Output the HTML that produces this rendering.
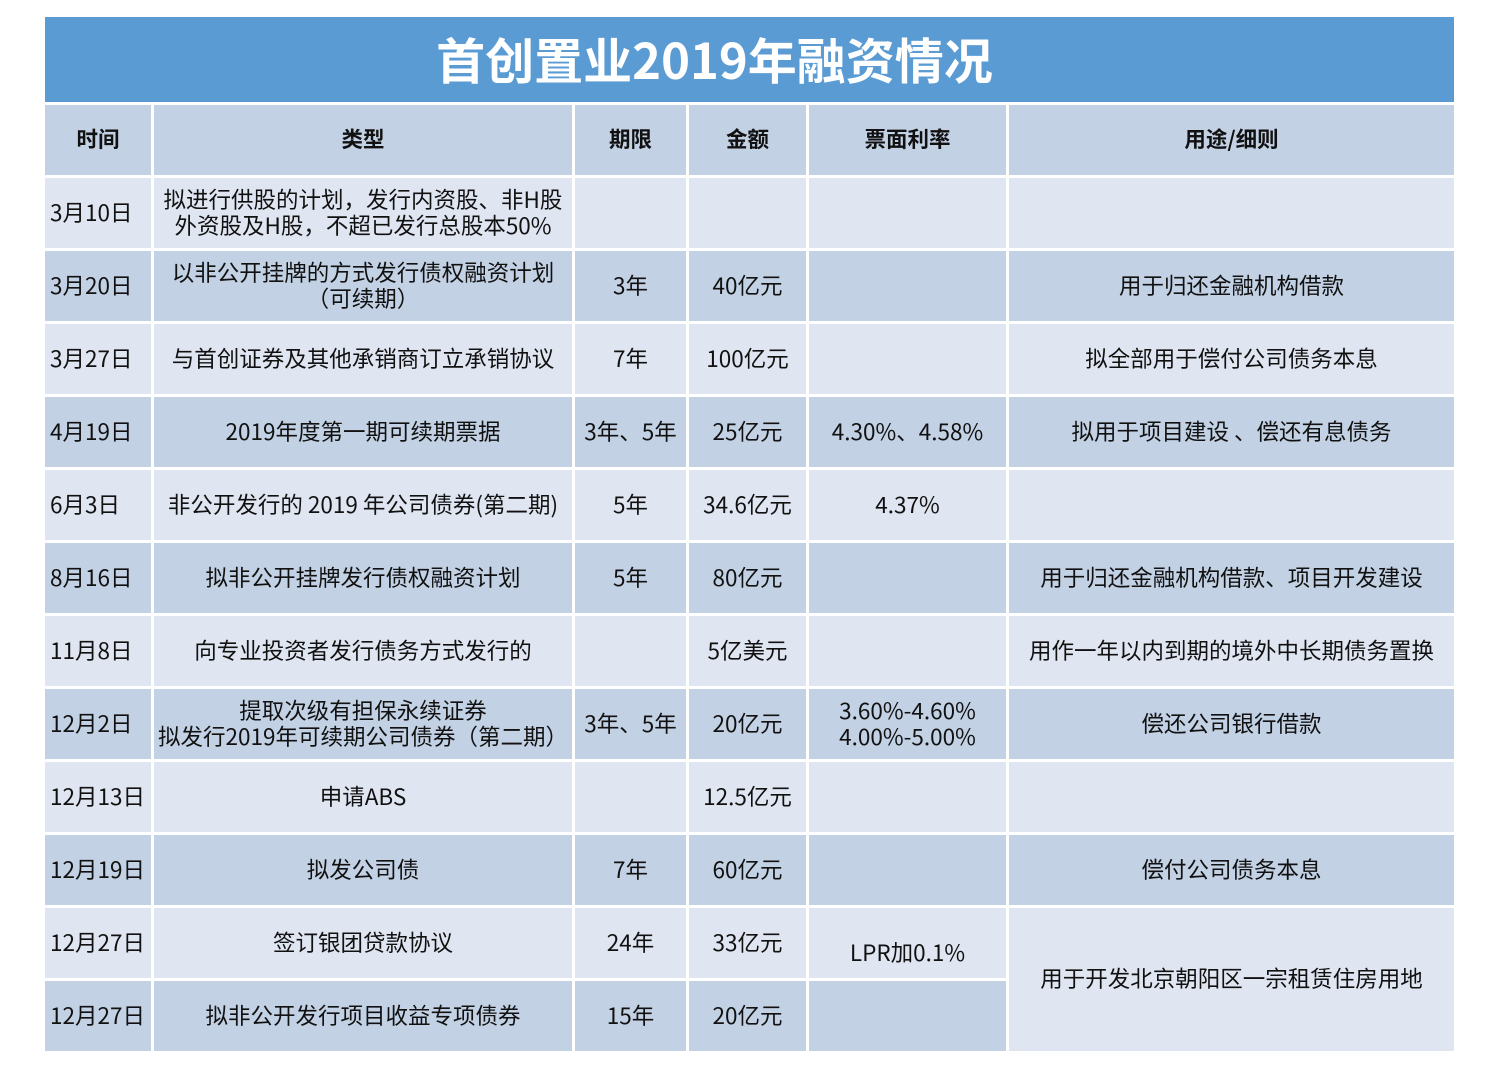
<!DOCTYPE html>
<html><head><meta charset="utf-8"><style>
body{margin:0;width:1500px;height:1075px;background:#fff;position:relative;overflow:hidden;font-family:"Noto Sans CJK SC","Liberation Sans",sans-serif;color:#111}
.c{position:absolute;display:flex;align-items:center;justify-content:center;text-align:center;font-size:22.5px;line-height:26px;box-sizing:border-box;padding-bottom:3px}
.L{background:#dfe5f1}.D{background:#c2d1e4}
.a{left:45px;width:106px;justify-content:flex-start;padding-left:5px}
.b{left:154px;width:418px}
.q{left:575px;width:111px}
.m{left:689px;width:117px}
.r{left:809px;width:197px}
.u{left:1009px;width:445px}
.h{font-weight:bold;background:#c3d1e4;top:105px;height:70px;font-size:21.5px}
</style></head><body>
<div class="c" style="left:45px;top:17px;width:1409px;height:85px;background:#5b9bd3;color:#fff;font-size:49px;font-weight:bold;padding-right:70px;padding-bottom:2px">首创置业2019年融资情况</div>
<div class="c h a" style="justify-content:center;padding:0 0 3px 0">时间</div><div class="c h b">类型</div><div class="c h q">期限</div><div class="c h m">金额</div><div class="c h r">票面利率</div><div class="c h u">用途/细则</div>

<div class="c L a" style="top:178px;height:70px">3月10日</div><div class="c L b" style="top:178px;height:70px">拟进行供股的计划，发行内资股、非H股<br>外资股及H股，不超已发行总股本50%</div><div class="c L q" style="top:178px;height:70px"></div><div class="c L m" style="top:178px;height:70px"></div><div class="c L r" style="top:178px;height:70px"></div><div class="c L u" style="top:178px;height:70px"></div>

<div class="c D a" style="top:251px;height:70px">3月20日</div><div class="c D b" style="top:251px;height:70px">以非公开挂牌的方式发行债权融资计划<br>（可续期）</div><div class="c D q" style="top:251px;height:70px">3年</div><div class="c D m" style="top:251px;height:70px">40亿元</div><div class="c D r" style="top:251px;height:70px"></div><div class="c D u" style="top:251px;height:70px">用于归还金融机构借款</div>

<div class="c L a" style="top:324px;height:70px">3月27日</div><div class="c L b" style="top:324px;height:70px">与首创证券及其他承销商订立承销协议</div><div class="c L q" style="top:324px;height:70px">7年</div><div class="c L m" style="top:324px;height:70px">100亿元</div><div class="c L r" style="top:324px;height:70px"></div><div class="c L u" style="top:324px;height:70px">拟全部用于偿付公司债务本息</div>

<div class="c D a" style="top:397px;height:70px">4月19日</div><div class="c D b" style="top:397px;height:70px">2019年度第一期可续期票据</div><div class="c D q" style="top:397px;height:70px">3年、5年</div><div class="c D m" style="top:397px;height:70px">25亿元</div><div class="c D r" style="top:397px;height:70px">4.30%、4.58%</div><div class="c D u" style="top:397px;height:70px">拟用于项目建设 、偿还有息债务</div>

<div class="c L a" style="top:470px;height:70px">6月3日</div><div class="c L b" style="top:470px;height:70px">非公开发行的 2019 年公司债券(第二期)</div><div class="c L q" style="top:470px;height:70px">5年</div><div class="c L m" style="top:470px;height:70px">34.6亿元</div><div class="c L r" style="top:470px;height:70px">4.37%</div><div class="c L u" style="top:470px;height:70px"></div>

<div class="c D a" style="top:543px;height:70px">8月16日</div><div class="c D b" style="top:543px;height:70px">拟非公开挂牌发行债权融资计划</div><div class="c D q" style="top:543px;height:70px">5年</div><div class="c D m" style="top:543px;height:70px">80亿元</div><div class="c D r" style="top:543px;height:70px"></div><div class="c D u" style="top:543px;height:70px">用于归还金融机构借款、项目开发建设</div>

<div class="c L a" style="top:616px;height:70px">11月8日</div><div class="c L b" style="top:616px;height:70px">向专业投资者发行债务方式发行的</div><div class="c L q" style="top:616px;height:70px"></div><div class="c L m" style="top:616px;height:70px">5亿美元</div><div class="c L r" style="top:616px;height:70px"></div><div class="c L u" style="top:616px;height:70px">用作一年以内到期的境外中长期债务置换</div>

<div class="c D a" style="top:689px;height:70px">12月2日</div><div class="c D b" style="top:689px;height:70px">提取次级有担保永续证券<br>拟发行2019年可续期公司债券（第二期）</div><div class="c D q" style="top:689px;height:70px">3年、5年</div><div class="c D m" style="top:689px;height:70px">20亿元</div><div class="c D r" style="top:689px;height:70px">3.60%-4.60%<br>4.00%-5.00%</div><div class="c D u" style="top:689px;height:70px">偿还公司银行借款</div>

<div class="c L a" style="top:762px;height:70px">12月13日</div><div class="c L b" style="top:762px;height:70px">申请ABS</div><div class="c L q" style="top:762px;height:70px"></div><div class="c L m" style="top:762px;height:70px">12.5亿元</div><div class="c L r" style="top:762px;height:70px"></div><div class="c L u" style="top:762px;height:70px"></div>

<div class="c D a" style="top:835px;height:70px">12月19日</div><div class="c D b" style="top:835px;height:70px">拟发公司债</div><div class="c D q" style="top:835px;height:70px">7年</div><div class="c D m" style="top:835px;height:70px">60亿元</div><div class="c D r" style="top:835px;height:70px"></div><div class="c D u" style="top:835px;height:70px">偿付公司债务本息</div>

<div class="c L a" style="top:908px;height:70px">12月27日</div><div class="c L b" style="top:908px;height:70px">签订银团贷款协议</div><div class="c L q" style="top:908px;height:70px">24年</div><div class="c L m" style="top:908px;height:70px">33亿元</div><div class="c L r" style="top:908px;height:70px;padding-top:20px">LPR加0.1%</div>

<div class="c D a" style="top:981px;height:70px">12月27日</div><div class="c D b" style="top:981px;height:70px">拟非公开发行项目收益专项债券</div><div class="c D q" style="top:981px;height:70px">15年</div><div class="c D m" style="top:981px;height:70px">20亿元</div><div class="c D r" style="top:981px;height:70px"></div>

<div class="c L u" style="top:908px;height:143px">用于开发北京朝阳区一宗租赁住房用地</div>
</body></html>
